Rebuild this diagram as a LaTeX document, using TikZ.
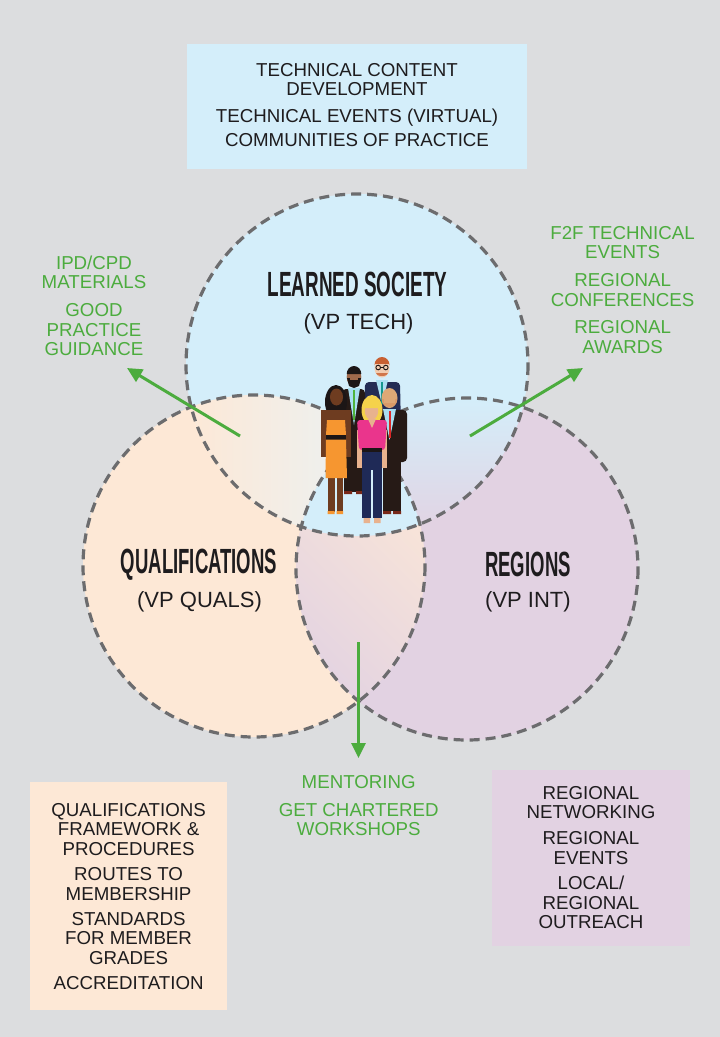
\documentclass[tikz,border=0pt]{standalone}
\usepackage{graphicx}
\usepackage{fontspec}
\setmainfont{Liberation Sans}
\usetikzlibrary{arrows.meta}
\definecolor{bg}{RGB}{220,221,223}
\definecolor{cblue}{RGB}{212,238,250}
\definecolor{cpeach}{RGB}{253,232,214}
\definecolor{cpurple}{RGB}{226,210,226}
\definecolor{ringgrey}{RGB}{108,108,110}
\definecolor{ggreen}{RGB}{76,172,62}
\definecolor{ink}{RGB}{30,28,30}
\definecolor{suitblack}{RGB}{38,26,22}
\definecolor{suitnavy}{RGB}{36,44,84}
\definecolor{shirtblue}{RGB}{170,222,240}
\definecolor{skindark}{RGB}{110,60,32}
\definecolor{skinmid}{RGB}{160,105,75}
\definecolor{skinlight}{RGB}{242,204,176}
\definecolor{skintan}{RGB}{222,168,118}
\definecolor{skinblonde}{RGB}{232,178,142}
\definecolor{hairblack}{RGB}{28,22,22}
\definecolor{hairred}{RGB}{200,96,50}
\definecolor{hairblonde}{RGB}{245,210,75}
\definecolor{dressorange}{RGB}{246,150,48}
\definecolor{toppink}{RGB}{234,53,140}
\definecolor{jeans}{RGB}{31,42,87}
\definecolor{tiegreen}{RGB}{80,180,60}
\definecolor{tieteal}{RGB}{20,150,140}
\definecolor{tiered}{RGB}{220,40,40}
\definecolor{shoebrown}{RGB}{120,40,25}
\begin{document}
\begin{tikzpicture}[x=1pt,y=-1pt,
  txt/.style={font=\fontsize{18.7pt}{19.4pt}\selectfont, text=ink, align=center, inner sep=0pt},
  gtxt/.style={txt, text=ggreen},
  ctitle/.style={inner sep=0pt, text=ink},
  csub/.style={font=\fontsize{22pt}{24pt}\selectfont, text=ink, inner sep=0pt},
  ring/.style={draw=ringgrey, line width=3.2pt, dash pattern=on 10pt off 6pt},
  arr/.style={draw=ggreen, line width=3pt, -{Triangle[length=15pt,width=14pt,fill=ggreen]}},
  boxfill/.style={inner sep=0pt, anchor=north west},
]
\useasboundingbox (0,0) rectangle (720,1037);
\fill[bg] (0,0) rectangle (720,1037);

% boxes
\node[boxfill, fill=cblue, minimum width=340pt, minimum height=125pt] (topbox) at (187,44) {};
\node[boxfill, fill=cpeach, minimum width=197pt, minimum height=228pt] (qualbox) at (30,782) {};
\node[boxfill, fill=cpurple, minimum width=198pt, minimum height=176pt] (regbox) at (492,770) {};

% circle centres
\coordinate (cT) at (357,365);
\coordinate (cL) at (254,566);
\coordinate (cR) at (467,569);

% fills
\fill[cpeach] (cL) circle[radius=171];
\fill[cpurple] (cR) circle[radius=171];
\fill[cblue] (cT) circle[radius=171];
\begin{scope}
  \clip (cL) circle[radius=171];
  \clip (cR) circle[radius=171];
  \shade[left color=cpeach, right color=cpurple, shading angle=-45] (296,395) rectangle (425,740);
\end{scope}
\begin{scope}
  \clip (cT) circle[radius=171];
  \clip (cL) circle[radius=171];
  \shade[left color=cpeach, right color=cblue!60!white] (186,395) rectangle (425,537);
\end{scope}
\begin{scope}
  \clip (cT) circle[radius=171];
  \clip (cR) circle[radius=171];
  \shade[top color=cblue, bottom color=cpurple] (296,398) rectangle (528,537);
\end{scope}
\begin{scope}
  \clip (cT) circle[radius=171];
  \clip (cL) circle[radius=171];
  \clip (cR) circle[radius=171];
  \fill[cblue] (296,395) rectangle (425,537);
\end{scope}

% dashed rings
\draw[ring] (cT) circle[radius=171];
\draw[ring] (cL) circle[radius=171];
\draw[ring] (cR) circle[radius=171];

% ---- people ----
% glasses man (back)
\fill[suitnavy, rounded corners=4pt] (365,382) -- (400,382) -- (401,430) -- (364,430) -- cycle;
\fill[shirtblue] (376,380) -- (388,380) -- (382,405) -- cycle;
\fill[tieteal] (381,382) rectangle (383,404);
\fill[skinlight] (382,368) ellipse[x radius=7.5, y radius=9.5];
\fill[hairred] (374.5,365) arc[start angle=180, end angle=360, x radius=7.5, y radius=8] -- cycle;
\fill[hairred!80!skinlight] (376,373) arc[start angle=180, end angle=0, x radius=6, y radius=3] -- cycle;
\fill[skinlight] (375,364) rectangle (389,372);
\draw[hairblack, line width=0.9pt] (378.2,367.5) circle[radius=2.3] (385.8,367.5) circle[radius=2.3] (380.5,367.5) -- (383.5,367.5);

% bearded man
\fill[suitblack] (344,455) rectangle (364,492);
\fill[suitblack, rounded corners=4pt] (342,389) -- (365,389) -- (365,462) -- (342,462) -- cycle;
\fill[shirtblue] (348,388) -- (360,388) -- (354,425) -- cycle;
\fill[tiegreen] (353,390) rectangle (355,420);
\fill[shoebrown] (344,491) rectangle (352,494) (356,491) rectangle (364,494);
\fill[skinmid] (354,377) ellipse[x radius=7.3, y radius=9.5];
\fill[hairblack] (346.7,374) arc[start angle=180, end angle=360, x radius=7.3, y radius=8] -- cycle;
\fill[hairblack] (347,378) -- (361,378) -- (359,386) -- (354,388) -- (349,386) -- cycle;
\fill[skinmid] (350,375) rectangle (358,380);

% bald man
\fill[suitblack] (383,458) rectangle (401,511);
\fill[suitblack, rounded corners=4pt] (378,410) -- (407,410) -- (407,462) -- (378,462) -- cycle;
\fill[shirtblue] (383,409) -- (396,409) -- (389.5,440) -- cycle;
\fill[tiered] (388.5,411) rectangle (390.5,438);
\fill[shoebrown] (383,511) rectangle (391,514) (393,511) rectangle (401,514);
\fill[skintan] (389.5,398) ellipse[x radius=8, y radius=10];
\fill[skintan!80!hairred] (381.8,399) arc[start angle=180, end angle=0, x radius=7.7, y radius=8] -- cycle;
\fill[skintan] (384,397) rectangle (395,403);

% woman left
\fill[hairblack] (336,402) ellipse[x radius=11, y radius=17];
\fill[skindark] (321,410) rectangle (327,457);
\fill[skindark] (345,410) rectangle (351,457);
\fill[skindark] (327,410) rectangle (345,421);
\fill[skindark] (327.5,478) rectangle (334.5,512);
\fill[skindark] (336.5,478) rectangle (343,512);
\fill[dressorange] (327,420) -- (345,420) -- (346,435) -- (326,435) -- cycle;
\fill[hairblack] (326,435) rectangle (346,439.5);
\fill[dressorange] (326,439.5) -- (346,439.5) -- (347,478) -- (325.5,478) -- cycle;
\fill[dressorange] (327.5,511) rectangle (334.5,514) (336.5,511) rectangle (343,514);
\fill[skindark] (336.5,397) ellipse[x radius=6.5, y radius=8.5];

% blonde woman (front)
\fill[hairblonde] (372,410) ellipse[x radius=10.5, y radius=15];
\fill[skinblonde] (356.5,430) rectangle (362,468);
\fill[skinblonde] (381.5,430) rectangle (387,468);
\fill[toppink, rounded corners=3pt] (357,420) -- (387,420) -- (385,450) -- (359,450) -- cycle;
\fill[skinblonde] (368,419) -- (376,419) -- (372,428) -- cycle;
\fill[hairblack] (361.5,448) rectangle (382,452);
\fill[jeans] (361.5,452) rectangle (382,470);
\fill[jeans] (361.8,470) rectangle (371.3,518);
\fill[jeans] (372.6,470) rectangle (382,518);
\fill[skinblonde] (363.5,518) rectangle (370,523) (374,518) rectangle (380.5,523);
\fill[skinblonde] (371.5,411) ellipse[x radius=6.7, y radius=8.7];
\fill[hairblonde] (364.8,408) arc[start angle=180, end angle=360, x radius=6.7, y radius=7] -- cycle;

% arrows
\coordinate (a1s) at (240,436);
\coordinate (a1e) at (127,368);
\coordinate (a2s) at (470,436);
\coordinate (a2e) at (583,368);
\coordinate (a3s) at (358.5,642);
\coordinate (a3e) at (358.5,758);
\draw[arr] (a1s) -- (a1e);
\draw[arr] (a2s) -- (a2e);
\draw[arr] (a3s) -- (a3e);

% circle titles
\node[ctitle] (lstitle) at (357.5,284) {\scalebox{0.54}[1]{\fontsize{35pt}{35pt}\selectfont\bfseries LEARNED SOCIETY}};
\node[csub, anchor=base] (lssub) at (358.5,329) {(VP TECH)};
\node[ctitle] (qtitle) at (199,564.5) {\scalebox{0.53}[1]{\fontsize{35pt}{35pt}\selectfont\bfseries QUALIFICATIONS}};
\node[csub, anchor=base] (qsub) at (199.5,607) {(VP QUALS)};
\node[ctitle] (rtitle) at (528,564.5) {\scalebox{0.53}[1]{\fontsize{35pt}{35pt}\selectfont\bfseries REGIONS}};
\node[csub, anchor=base] (rsub) at (528,607) {(VP INT)};

% box texts
\node[txt, anchor=north] (toptext) at (357,63.3) {TECHNICAL CONTENT\\DEVELOPMENT\\[7pt]TECHNICAL EVENTS (VIRTUAL)\\[5pt]COMMUNITIES OF PRACTICE};
\node[txt, anchor=north] (qualtext) at (128.6,803.3) {QUALIFICATIONS\\FRAMEWORK \&\\PROCEDURES\\[6pt]ROUTES TO\\MEMBERSHIP\\[6pt]STANDARDS\\FOR MEMBER\\GRADES\\[6pt]ACCREDITATION};
\node[txt, anchor=north] (regtext) at (591,786.3) {REGIONAL\\NETWORKING\\[6.5pt]REGIONAL\\EVENTS\\[6pt]LOCAL/\\REGIONAL\\OUTREACH};

% green texts
\node[gtxt, anchor=north] (lefttext) at (94,255.3) {IPD/CPD\\MATERIALS\\[9pt]GOOD\\PRACTICE\\GUIDANCE};
\node[gtxt, anchor=north] (righttext) at (622.6,225.8) {F2F TECHNICAL\\EVENTS\\[9pt]REGIONAL\\CONFERENCES\\[8pt]REGIONAL\\AWARDS};
\node[gtxt, anchor=north] (midtext) at (358.7,775.3) {MENTORING\\[8.5pt]GET CHARTERED\\WORKSHOPS};
\end{tikzpicture}
\end{document}
